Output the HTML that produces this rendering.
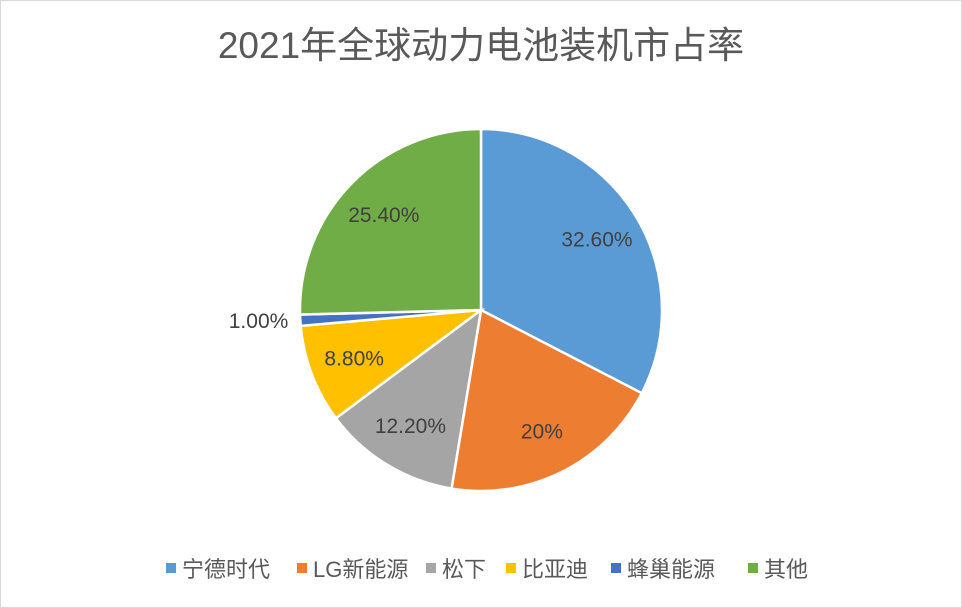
<!DOCTYPE html>
<html><head><meta charset="utf-8"><style>
html,body{margin:0;padding:0;background:#fff}
svg{display:block;font-family:"Liberation Sans","Noto Sans CJK SC",sans-serif}
</style></head><body>
<svg id="c" width="962" height="608" viewBox="0 0 962 608">
<rect x="0.5" y="0.5" width="961" height="607" fill="#fff" stroke="#d9d9d9"/>
<text x="481" y="58" text-anchor="middle" font-size="37" fill="#595959">2021年全球动力电池装机市占率</text>
<g id="pie"></g>
<g id="legend"></g>
</svg>
<script>
const categories = ["宁德时代","LG新能源","松下","比亚迪","蜂巢能源","其他"];
const values = [32.6, 20, 12.2, 8.8, 1.0, 25.4];
const valueLabels = ["32.60%","20%","12.20%","8.80%","1.00%","25.40%"];
const colors = ["#5B9BD5","#ED7D31","#A5A5A5","#FFC000","#4472C4","#70AD47"];
const NS="http://www.w3.org/2000/svg";
const cx=481, cy=310, r=181;
const pie=document.getElementById('pie');
const total=values.reduce((a,b)=>a+b,0);
function pt(a,rr){return [cx+rr*Math.sin(a), cy-rr*Math.cos(a)];}
let acc=0;
values.forEach((v,i)=>{
  const a0=acc/total*2*Math.PI; acc+=v; const a1=acc/total*2*Math.PI;
  const p0=pt(a0,r), p1=pt(a1,r);
  const large=(a1-a0)>Math.PI?1:0;
  const path=document.createElementNS(NS,'path');
  path.setAttribute('d',`M${cx},${cy}L${p0[0]},${p0[1]}A${r},${r} 0 ${large} 1 ${p1[0]},${p1[1]}Z`);
  path.setAttribute('fill',colors[i]);
  path.setAttribute('stroke','#fff');
  path.setAttribute('stroke-width','2.5');
  
  
  pie.appendChild(path);
  const am=(a0+a1)/2;
  const t=document.createElementNS(NS,'text');
  let lp, anchor='middle';
  if(v/total<0.03){ lp=pt(am,r+12); anchor=Math.sin(am)<0?'end':'start'; }
  else lp=pt(am,r*0.75);
  t.setAttribute('x',lp[0]); t.setAttribute('y',lp[1]+7);
  t.setAttribute('text-anchor',anchor);
  t.setAttribute('font-size','21'); t.setAttribute('fill','#404040');
  t.textContent=valueLabels[i];
  
  
  pie.appendChild(t);
});
const lg=document.getElementById('legend');
const lx=[166,297,426,506,611,748];
categories.forEach((c,i)=>{
  const g=document.createElementNS(NS,'g');
  
  
  const s=document.createElementNS(NS,'rect');
  s.setAttribute('x',lx[i]); s.setAttribute('y',563); s.setAttribute('width',10); s.setAttribute('height',10);
  s.setAttribute('fill',colors[i]);
  
  
  const t=document.createElementNS(NS,'text');
  t.setAttribute('x',lx[i]+16); t.setAttribute('y',577);
  t.setAttribute('font-size','22'); t.setAttribute('fill','#595959');
  t.textContent=c;
  
  
  g.appendChild(s); g.appendChild(t); lg.appendChild(g);
});
</script>
</body></html>
